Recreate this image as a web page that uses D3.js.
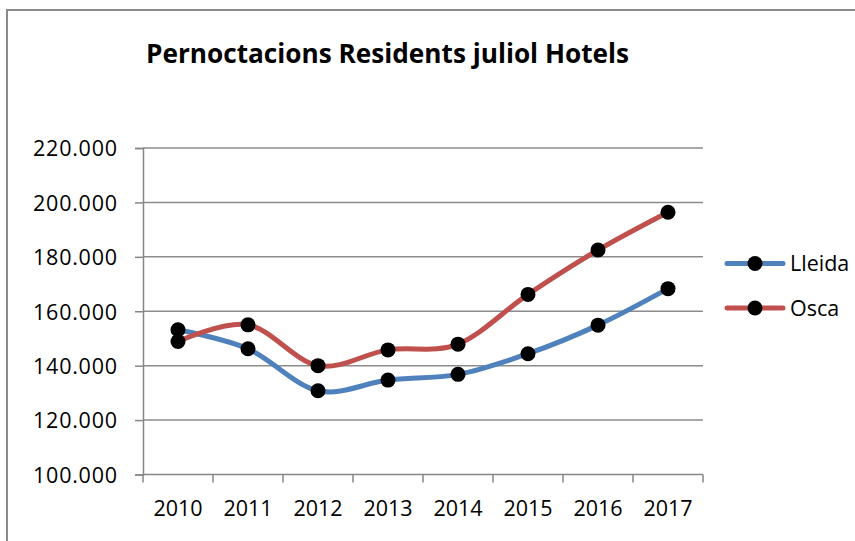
<!DOCTYPE html>
<html>
<head>
<meta charset="utf-8">
<script src="https://cdn.jsdelivr.net/npm/d3@7"></script>
<style>
  body { margin: 0; background: #fff; }
  text { font-family: "Open Sans", "Noto Sans", sans-serif; fill: #000; }
</style>
</head>
<body>
<script>
const years = ["2010", "2011", "2012", "2013", "2014", "2015", "2016", "2017"];
const lleida = [153200, 146200, 130800, 134700, 136800, 144400, 154900, 168300];
const osca = [148900, 155000, 140000, 145800, 147900, 166200, 182500, 196400];
const yTicks = [100000, 120000, 140000, 160000, 180000, 200000, 220000];
const seriesNames = ["Lleida", "Osca"];
const seriesColors = ["#4F81BD", "#C0504D"];

const W = 855, H = 541;
const plot = {left: 143, right: 703, top: 148, bottom: 474.5};

const fmt = d3.formatLocale({decimal: ",", thousands: ".", grouping: [3], currency: ["", ""]}).format(",.0f");

const svg = d3.select("body").append("svg")
    .attr("width", W)
    .attr("height", H);

svg.append("rect").attr("width", W).attr("height", H).attr("fill", "#fff");

// chart frame (only top/left visible in the picture)
svg.append("path")
    .attr("d", "M7," + H + "V10H" + W)
    .attr("fill", "none")
    .attr("stroke", "#8a8a8a")
    .attr("stroke-width", 2);

svg.append("text")
    .attr("x", 146)
    .attr("y", 62.5)
    .attr("textLength", 483)
    .attr("lengthAdjust", "spacingAndGlyphs")
    .style("font-size", "26px")
    .style("font-weight", "bold")
    .text("Pernoctacions Residents juliol Hotels");

const x = d3.scaleBand()
    .domain(years)
    .range([plot.left, plot.right]);

const y = d3.scaleLinear()
    .domain([100000, 220000])
    .range([plot.bottom, plot.top]);

// gridlines
svg.append("g")
  .selectAll("line")
  .data(yTicks.slice(1))
  .enter().append("line")
    .attr("x1", plot.left)
    .attr("x2", plot.right)
    .attr("y1", d => y(d))
    .attr("y2", d => y(d))
    .attr("stroke", "#8c8c8c")
    .attr("stroke-width", 1.5);

const yAxis = d3.axisLeft(y)
    .tickValues(yTicks)
    .tickFormat(fmt)
    .tickSize(8)
    .tickPadding(18);

const yG = svg.append("g")
    .attr("transform", "translate(" + plot.left + ",0)")
    .call(yAxis);
yG.select(".domain").attr("stroke", "#868686").attr("stroke-width", 1.5);
yG.selectAll(".tick line").attr("stroke", "#868686").attr("stroke-width", 1.5);
yG.selectAll(".tick text")
    .attr("dy", "0.36em")
    .attr("textLength", 84)
    .attr("lengthAdjust", "spacing")
    .style("font-size", "21.5px")
    .style("font-family", "'Open Sans', sans-serif")
    .attr("fill", "#000");

// x axis: ticks on category boundaries
const xG = svg.append("g")
    .attr("transform", "translate(0," + plot.bottom + ")");
xG.append("line")
    .attr("x1", plot.left).attr("x2", plot.right)
    .attr("stroke", "#868686").attr("stroke-width", 1.5);
xG.selectAll(".xtick")
  .data(years.concat(["end"]))
  .enter().append("line")
    .attr("class", "xtick")
    .attr("x1", (d, i) => i < years.length ? x(d) : x(years[years.length - 1]) + x.bandwidth())
    .attr("x2", (d, i) => i < years.length ? x(d) : x(years[years.length - 1]) + x.bandwidth())
    .attr("y1", 0).attr("y2", 8)
    .attr("stroke", "#868686").attr("stroke-width", 1.5);
xG.selectAll(".xlab")
  .data(years)
  .enter().append("text")
    .attr("class", "xlab")
    .attr("x", d => x(d) + x.bandwidth() / 2)
    .attr("y", 41)
    .attr("text-anchor", "middle")
    .style("font-size", "21.5px")
    .text(d => d);

const line = d3.line()
    .x((d, i) => x(years[i]) + x.bandwidth() / 2)
    .y(d => y(d))
    .curve(d3.curveCardinal.tension(0));

[lleida, osca].forEach((vals, k) => {
  const g = svg.append("g");
  g.append("path")
      .datum(vals)
      .attr("d", line)
      .attr("fill", "none")
      .attr("stroke", seriesColors[k])
      .attr("stroke-width", 5)
      .attr("stroke-linecap", "round");
  g.selectAll("circle")
    .data(vals)
    .enter().append("circle")
      .attr("cx", (d, i) => x(years[i]) + x.bandwidth() / 2)
      .attr("cy", d => y(d))
      .attr("r", 7.5)
      .attr("fill", "#000");
});

// legend
const legend = svg.append("g")
  .selectAll("g")
  .data(seriesNames)
  .enter().append("g")
    .attr("transform", (d, i) => "translate(727," + (263.5 + i * 44.5) + ")");
legend.append("line")
    .attr("x1", 0).attr("x2", 56)
    .attr("stroke", (d, i) => seriesColors[i])
    .attr("stroke-width", 5)
    .attr("stroke-linecap", "round");
legend.append("circle")
    .attr("cx", 28)
    .attr("r", 7.5)
    .attr("fill", "#000");
legend.append("text")
    .attr("x", 63)
    .attr("dy", "0.36em")
    .style("font-size", "21.5px")
    .text(d => d);
</script>
</body>
</html>
